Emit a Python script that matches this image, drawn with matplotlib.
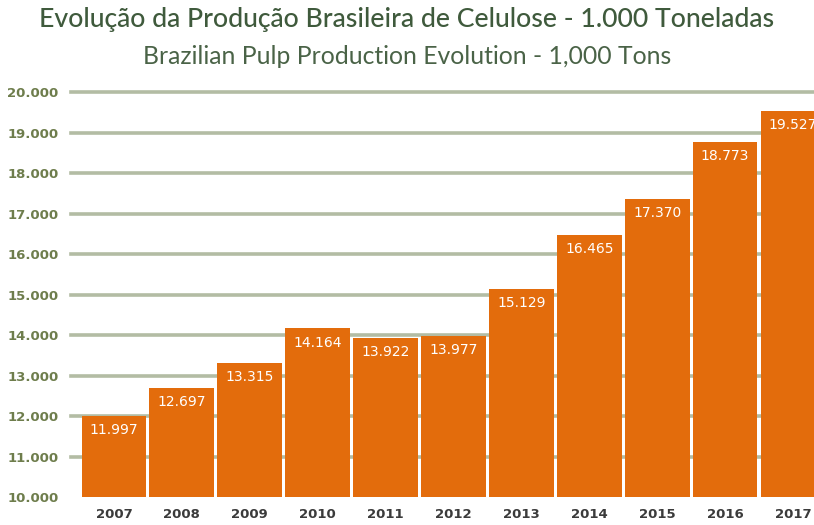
import numpy as np
import matplotlib
matplotlib.use("Agg")
import matplotlib.pyplot as plt

years = ['2007', '2008', '2009', '2010', '2011', '2012', '2013', '2014', '2015', '2016', '2017']
production = [11997, 12697, 13315, 14164, 13922, 13977, 15129, 16465, 17370, 18773, 19527]
labels = ['11.997', '12.697', '13.315', '14.164', '13.922', '13.977',
          '15.129', '16.465', '17.370', '18.773', '19.527']
yticks = list(range(10000, 20001, 1000))
ytick_labels = ['10.000', '11.000', '12.000', '13.000', '14.000', '15.000',
                '16.000', '17.000', '18.000', '19.000', '20.000']

bar_color = '#e36c0c'
grid_color = '#b3bca4'
tick_color = '#6e7d4c'
title_color = '#3f5a3c'

fig = plt.figure(figsize=(8.14, 5.25), dpi=100)
# axes spans past the right edge on purpose, last bar gets cut like the original
ax = fig.add_axes([78/814, 1-497/525, (814-78)/814, (497-86)/525])

x = np.arange(len(years))
ax.bar(x, production, width=0.955, bottom=0, color=bar_color, zorder=3)
ax.set_ylim(10000, 20150)
ax.set_xlim(-0.53, 10.31)

for yv in yticks[1:]:
    ax.axhline(yv, color=grid_color, lw=2.6, zorder=1, xmin=-0.01, clip_on=False)

for xi, v, lab in zip(x, production, labels):
    ax.text(xi, v - 350, lab, ha='center', va='center', color='white',
            fontsize=10, zorder=4, clip_on=True, family='DejaVu Sans')

ax.set_yticks(yticks)
ax.set_yticklabels(ytick_labels)
ax.set_xticks(x)
ax.set_xticklabels(years)
ax.tick_params(axis='y', length=0, pad=14, labelsize=9.5, labelcolor=tick_color)
ax.tick_params(axis='x', length=0, pad=8, labelsize=9.5, labelcolor='#3b3b3b')
for lab in ax.get_yticklabels() + ax.get_xticklabels():
    lab.set_fontweight('bold')
for s in ax.spines.values():
    s.set_visible(False)

fig.text(0.5, 1-20/525, 'Evolução da Produção Brasileira de Celulose - 1.000 Toneladas',
         ha='center', va='center', fontsize=19.2, color=title_color, family='Lato',
         fontweight='medium')
fig.text(0.5, 1-56/525, 'Brazilian Pulp Production Evolution - 1,000 Tons',
         ha='center', va='center', fontsize=17.8, color='#4a6347', family='Lato')

fig.savefig('out.png', dpi=100)
